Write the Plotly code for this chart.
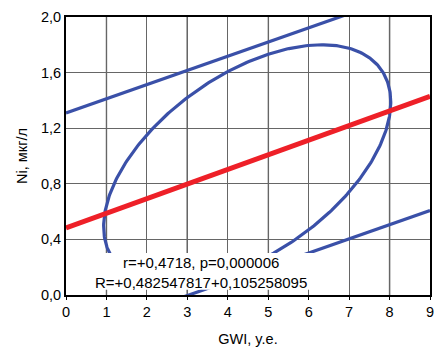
import numpy as np
import plotly.graph_objects as go

# ---- data ----
x_range = [0, 9]
y_range = [0, 2.0]
x_ticks = [0, 1, 2, 3, 4, 5, 6, 7, 8, 9]
y_ticks = [0.0, 0.4, 0.8, 1.2, 1.6, 2.0]
y_ticktext = ["0,0", "0,4", "0,8", "1,2", "1,6", "2,0"]

reg_intercept = 0.482547817
reg_slope = 0.105258095
upper_intercept = 1.31
upper_slope = 0.102
lower_intercept = -0.31
lower_slope = 0.102

# confidence ellipse: centre and covariance-like shape
ell_center = [4.48, 0.94]
ell_sxx = 12.6
ell_syy = 0.74
ell_sxy = 1.59

stat_text = "r=+0,4718, p=0,000006<br>R=+0,482547817+0,105258095"

# ---- build ----
line_x = np.array(x_range, dtype=float)
t = np.linspace(0, 2 * np.pi, 400)
cov = np.array([[ell_sxx, ell_sxy], [ell_sxy, ell_syy]])
L = np.linalg.cholesky(cov)
circ = np.vstack([np.cos(t), np.sin(t)])
ell = L @ circ
ell_x = ell[0] + ell_center[0]
ell_y = ell[1] + ell_center[1]

blue = "#3a50a8"
red = "#ee2028"

fig = go.Figure()
fig.add_trace(go.Scatter(x=ell_x, y=ell_y, mode="lines",
                         line=dict(color=blue, width=3.2), hoverinfo="skip"))
fig.add_trace(go.Scatter(x=line_x, y=upper_intercept + upper_slope * line_x, mode="lines",
                         line=dict(color=blue, width=3.2), hoverinfo="skip"))
fig.add_trace(go.Scatter(x=line_x, y=lower_intercept + lower_slope * line_x, mode="lines",
                         line=dict(color=blue, width=3.2), hoverinfo="skip"))
fig.add_trace(go.Scatter(x=line_x, y=reg_intercept + reg_slope * line_x, mode="lines",
                         line=dict(color=red, width=5), hoverinfo="skip"))

# grid line shading variation (as seen in the reference)
grid_dark = [3, 8]
grid_light = [1, 5]
for gx in grid_dark:
    fig.add_shape(type="line", xref="x", yref="paper", x0=gx, x1=gx, y0=0, y1=1,
                  line=dict(color="#000000", width=1.3), layer="below")
for gx in grid_light:
    fig.add_shape(type="line", xref="x", yref="paper", x0=gx, x1=gx, y0=0, y1=1,
                  line=dict(color="#b4b4b4", width=1.8), layer="below")

# white label box covering the plot behind the statistics text
fig.add_shape(type="rect", xref="x", yref="y", x0=0.71, x1=6.2, y0=0.038, y1=0.302,
              fillcolor="white", line=dict(width=0), layer="above")
fig.add_annotation(x=3.35, y=0.165, xref="x", yref="y", text=stat_text,
                   showarrow=False, align="center", borderpad=0,
                   font=dict(family="Liberation Sans, Arial, sans-serif", size=15, color="black"))

fig.update_layout(
    width=443, height=354,
    margin=dict(l=66, r=9, t=14, b=57),
    plot_bgcolor="white", paper_bgcolor="white",
    showlegend=False,
    font=dict(family="Liberation Sans, Arial, sans-serif", size=14.5, color="black"),
)
fig.update_xaxes(range=x_range, tickvals=x_ticks, ticktext=[str(v) for v in x_ticks],
                 showgrid=True, gridcolor="#666666", gridwidth=1.3,
                 showline=True, linecolor="black", linewidth=2, mirror=True,
                 ticks="outside", ticklen=3, tickcolor="black", zeroline=False,
                 title=dict(text="GWI, y.e.", standoff=14, font=dict(size=14.5)))
fig.update_yaxes(range=y_range, tickvals=y_ticks, ticktext=y_ticktext,
                 showgrid=True, gridcolor="#666666", gridwidth=1.3,
                 showline=True, linecolor="black", linewidth=2, mirror=True,
                 ticks="", zeroline=False,
                 title=dict(text="Ni, мкг/л", standoff=10, font=dict(size=14.5)))

fig.write_html("out.html")
